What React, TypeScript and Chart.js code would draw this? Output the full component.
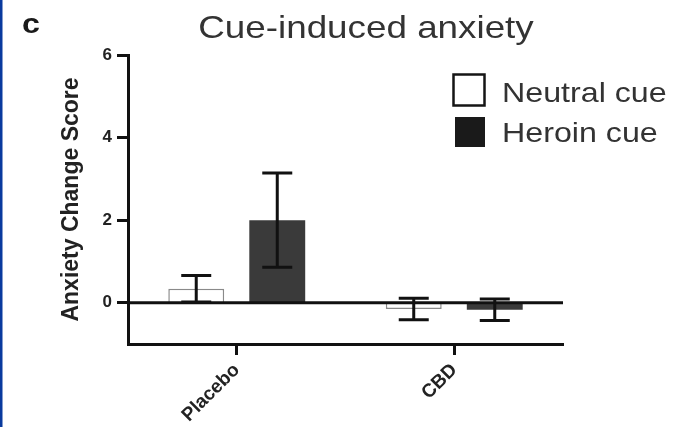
import { useEffect, useRef } from "react";
import { Chart, registerables } from "chart.js";

Chart.register(...registerables);

// Group means and SEM for the anxiety change score
const groups = ["Placebo", "CBD"];
const seriesNames = ["Neutral cue", "Heroin cue"];
const neutralMeans = [0.34, -0.15];
const neutralErrors = [0.32, 0.26];
const heroinMeans = [2.0, -0.17];
const heroinErrors = [1.14, 0.26];
const yTicks = [0, 2, 4, 6];
const yMin = -1;
const yMax = 6;

const panelLetter = "c";
const chartTitle = "Cue-induced anxiety";
const yTitle = "Anxiety Change Score";

const FONT = '"Liberation Sans", Arial, Helvetica, sans-serif';
const STRETCH = 1.15;
const INK = "#111";

function drawWideText(
  ctx: CanvasRenderingContext2D,
  text: string,
  x: number,
  y: number,
  font: string,
  color: string,
  align: CanvasTextAlign
) {
  ctx.save();
  ctx.translate(x, y);
  ctx.scale(STRETCH, 1);
  ctx.font = font;
  ctx.fillStyle = color;
  ctx.textAlign = align;
  ctx.textBaseline = "alphabetic";
  ctx.fillText(text, 0, 0);
  ctx.restore();
}

const figurePlugin = {
  id: "figureDecor",
  beforeDraw(chart: any) {
    const { ctx, width, height } = chart;
    ctx.save();
    ctx.fillStyle = "#ffffff";
    ctx.fillRect(0, 0, width, height);
    ctx.fillStyle = "#0a3a9e";
    ctx.fillRect(0, 0, 2.5, height);
    ctx.restore();
  },
  afterDatasetsDraw(chart: any) {
    const { ctx, chartArea, scales } = chart;
    const y = scales.y;
    const y0 = y.getPixelForValue(0);
    ctx.save();
    // zero reference line
    ctx.strokeStyle = INK;
    ctx.lineWidth = 3;
    ctx.beginPath();
    ctx.moveTo(chartArea.left, y0);
    ctx.lineTo(chartArea.right, y0);
    ctx.stroke();

    // SEM whiskers with caps
    chart.data.datasets.forEach((ds: any, di: number) => {
      const meta = chart.getDatasetMeta(di);
      meta.data.forEach((bar: any, i: number) => {
        const m = ds.data[i];
        const e = ds.errors[i];
        const top = y.getPixelForValue(m + e);
        const bot = y.getPixelForValue(m - e);
        const cap = 15;
        ctx.strokeStyle = INK;
        ctx.lineWidth = 3;
        ctx.beginPath();
        ctx.moveTo(bar.x, top);
        ctx.lineTo(bar.x, bot);
        ctx.moveTo(bar.x - cap, top);
        ctx.lineTo(bar.x + cap, top);
        ctx.moveTo(bar.x - cap, bot);
        ctx.lineTo(bar.x + cap, bot);
        ctx.stroke();
      });
    });
    ctx.restore();
  },
  afterDraw(chart: any) {
    const { ctx } = chart;
    drawWideText(ctx, panelLetter, 22, 33, `bold 28px ${FONT}`, "#1a1a1a", "left");
    drawWideText(ctx, chartTitle, 366, 38, `32px ${FONT}`, "#333", "center");

    // legend
    ctx.save();
    ctx.strokeStyle = "#151515";
    ctx.lineWidth = 2.5;
    ctx.fillStyle = "#ffffff";
    ctx.fillRect(453.5, 74.5, 31, 31);
    ctx.strokeRect(453.5, 74.5, 31, 31);
    ctx.fillStyle = "#1a1a1a";
    ctx.fillRect(455, 117, 30, 30);
    ctx.restore();
    drawWideText(ctx, seriesNames[0], 502, 102, `28px ${FONT}`, "#333", "left");
    drawWideText(ctx, seriesNames[1], 502, 142, `28px ${FONT}`, "#333", "left");
  },
};

export default function App() {
  const canvasRef = useRef<HTMLCanvasElement | null>(null);

  useEffect(() => {
    const canvas = canvasRef.current;
    if (!canvas) return;
    const chart = new Chart(canvas, {
      type: "bar",
      data: {
        labels: groups,
        datasets: [
          {
            label: seriesNames[0],
            data: neutralMeans,
            errors: neutralErrors,
            backgroundColor: "#ffffff",
            borderColor: "#8a8a8a",
            borderWidth: 1.5,
          } as any,
          {
            label: seriesNames[1],
            data: heroinMeans,
            errors: heroinErrors,
            backgroundColor: "#3a3a3a",
            borderColor: "#333",
            borderWidth: 0,
          } as any,
        ],
      },
      plugins: [figurePlugin],
      options: {
        responsive: false,
        animation: false,
        devicePixelRatio: 1,
        categoryPercentage: 0.745,
        barPercentage: 0.69,
        layout: { padding: { left: 0, right: 114, top: 55, bottom: 0 } },
        plugins: {
          legend: { display: false },
          title: { display: false },
          tooltip: { enabled: false },
        },
        scales: {
          x: {
            type: "category",
            offset: true,
            grid: {
              offset: false,
              drawOnChartArea: false,
              drawTicks: true,
              tickLength: 11,
              tickColor: INK,
              tickWidth: 3,
            },
            border: { display: true, color: INK, width: 3 },
            ticks: {
              minRotation: 45,
              maxRotation: 45,
              padding: 4,
              color: "#222",
              font: { family: FONT, size: 19, weight: "bold" },
            },
            afterFit(scale: any) {
              scale.height = 83;
            },
          },
          y: {
            min: yMin,
            max: yMax,
            afterBuildTicks(scale: any) {
              scale.ticks = yTicks.map((v) => ({ value: v }));
            },
            grid: {
              drawOnChartArea: false,
              drawTicks: true,
              tickLength: 11,
              tickColor: INK,
              tickWidth: 3,
            },
            border: { display: true, color: INK, width: 3 },
            ticks: {
              padding: 5,
              color: "#222",
              font: { family: FONT, size: 17, weight: "bold" },
            },
            title: {
              display: true,
              text: yTitle,
              color: "#222",
              padding: { top: 58, bottom: 0 },
              font: { family: FONT, size: 23, weight: "bold" },
            },
            afterFit(scale: any) {
              scale.width = 128;
            },
          },
        },
      } as any,
    });
    return () => chart.destroy();
  }, []);

  return (
    <div style={{ position: "absolute", left: 0, top: 0, width: 677, height: 427 }}>
      <canvas ref={canvasRef} width={677} height={427} style={{ display: "block" }} />
    </div>
  );
}
